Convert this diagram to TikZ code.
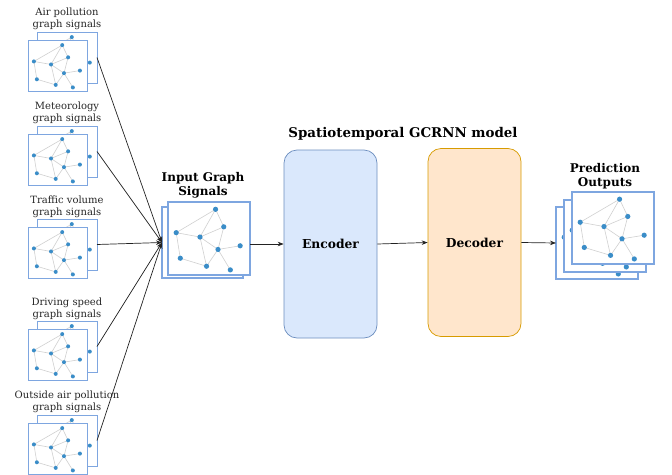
\documentclass[tikz,border=0pt]{standalone}
\usepackage{fontspec}
\setmainfont{DejaVu Serif}
\usetikzlibrary{arrows.meta}
\definecolor{frameblue}{HTML}{7EA6E0}
\definecolor{dotblue}{HTML}{3A8DC8}
\definecolor{edgegray}{HTML}{D0D0D0}
\definecolor{encfill}{HTML}{DAE8FC}
\definecolor{encdraw}{HTML}{6C8EBF}
\definecolor{decfill}{HTML}{FFE6CC}
\definecolor{decdraw}{HTML}{D79B00}
\definecolor{linkcol}{HTML}{222222}
\tikzset{
  lbl/.style={align=center, font=\fontsize{10}{12}\selectfont, text=black!85, inner sep=0pt},
  ttl/.style={align=center, font=\fontsize{12}{14}\selectfont\bfseries, inner sep=0pt},
  block/.style={rounded corners=13pt, minimum width=93pt, minimum height=188pt, line width=0.7pt, font=\fontsize{12.3}{14}\selectfont\bfseries},
  link/.style={draw=linkcol, line width=0.7pt, -{Stealth[length=6pt,width=4.5pt]}},
}
% #1 name, #2 x, #3 y, #4 w, #5 h, #6 dot radius, #7 frame width
\newcommand{\gpanel}[7]{%
  \node[draw=frameblue, fill=white, line width=#7, inner sep=0pt, outer sep=0pt,
        minimum width=#4pt, minimum height=#5pt, anchor=north west] (#1) at (#2,#3) {};
  \begin{scope}[shift={(#2,#3)}, x=#4pt, y=-#5pt]
    \draw[edgegray, line width=0.6pt] (.58,.10) -- (.10,.42) -- (.39,.48) -- (.58,.10) -- (.68,.34) -- (.39,.48) -- (.47,.88) -- (.15,.77) -- (.10,.42);
    \draw[edgegray, line width=0.6pt] (.68,.34) -- (.61,.65) -- (.88,.60);
    \draw[edgegray, line width=0.6pt] (.39,.48) -- (.61,.65) -- (.76,.93);
    \draw[edgegray, line width=0.6pt] (.61,.65) -- (.47,.88);
    \foreach \a/\b in {.58/.10, .68/.34, .10/.42, .39/.48, .88/.60, .61/.65, .15/.77, .47/.88, .76/.93}
      \fill[dotblue] (\a,\b) circle[radius=#6];
  \end{scope}}
\begin{document}
\begin{tikzpicture}[x=1pt, y=-1pt]
\useasboundingbox (0,0) rectangle (672,474);
% left icons
\gpanel{airb}{37}{32}{60}{51}{2pt}{1pt}
\gpanel{airf}{28}{40}{59}{51}{2pt}{1pt}
\gpanel{metb}{37}{126}{60}{51}{2pt}{1pt}
\gpanel{metf}{28}{134}{59}{51}{2pt}{1pt}
\gpanel{trab}{37}{219}{60}{51}{2pt}{1pt}
\gpanel{traf}{28}{227}{59}{51}{2pt}{1pt}
\gpanel{drib}{37}{321}{60}{51}{2pt}{1pt}
\gpanel{drif}{28}{329}{59}{51}{2pt}{1pt}
\gpanel{outb}{37}{415}{60}{51}{2pt}{1pt}
\gpanel{outf}{28}{423}{59}{51}{2pt}{1pt}
\node[lbl] (airl) at (67,19) {Air pollution\\graph signals};
\node[lbl] (metl) at (67,113) {Meteorology\\graph signals};
\node[lbl] (tral) at (67,207) {Traffic volume\\graph signals};
\node[lbl] (dril) at (67,309) {Driving speed\\graph signals};
\node[lbl] (outl) at (67,402) {Outside air pollution\\graph signals};
% input graph
\gpanel{inb}{162}{207}{81}{71}{2.6pt}{1.6pt}
\gpanel{inf}{168}{202}{82}{73}{2.6pt}{1.6pt}
\node[ttl] (inl) at (203,185) {Input Graph\\Signals};
% model
\node[block, fill=encfill, draw=encdraw] (enc) at (330.5,244) {Encoder};
\node[block, fill=decfill, draw=decdraw] (dec) at (474.5,242.5) {Decoder};
\node[ttl, font=\fontsize{13.4}{15}\selectfont\bfseries] (model) at (403,134) {Spatiotemporal GCRNN model};
% outputs
\gpanel{pb}{556}{207}{82}{72}{2.6pt}{1.6pt}
\gpanel{pm}{564}{200}{82}{72}{2.6pt}{1.6pt}
\gpanel{pf}{572}{192}{82}{72}{2.6pt}{1.6pt}
\node[ttl] (pl) at (605,176) {Prediction\\Outputs};
% connectors
\foreach \s in {airb, metb, trab, drib, outb}
  \draw[link] (\s.east) -- (inb.west);
\draw[link] (enc.west -| inf.east) -- (enc.west);
\draw[link] (enc.east) -- (dec.west);
\draw[link] (dec.east) -- (pb.west);
\end{tikzpicture}
\end{document}
